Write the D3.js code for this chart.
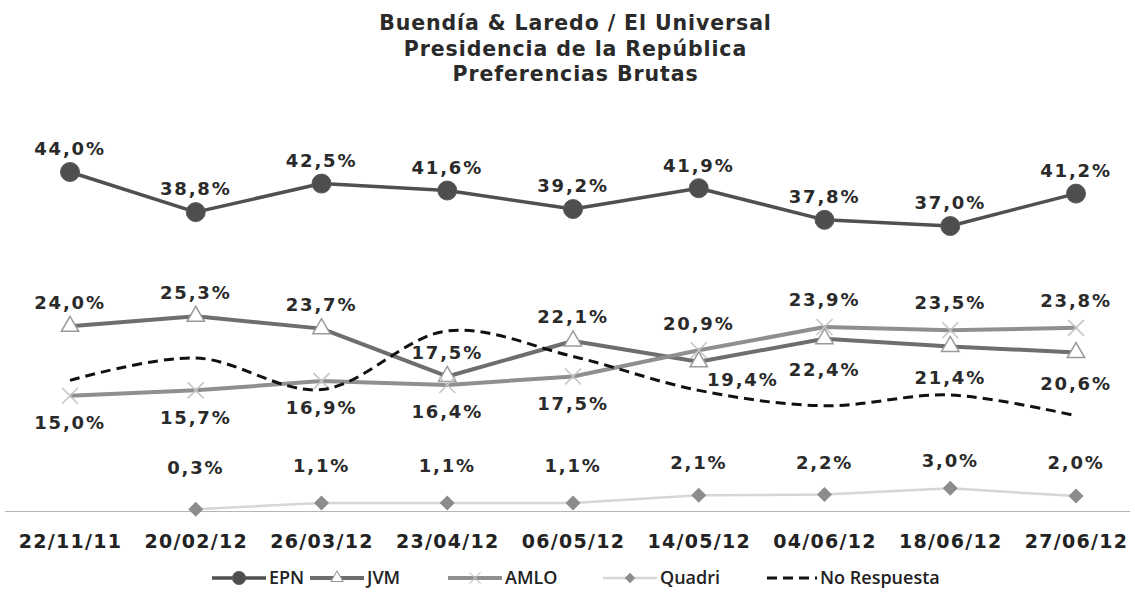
<!DOCTYPE html>
<html>
<head>
<meta charset="utf-8">
<script src="https://cdn.jsdelivr.net/npm/d3@7"></script>
<style>
  html, body { margin: 0; padding: 0; background: #fff; }
  svg { display: block; }
</style>
</head>
<body>
<svg id="chart" width="1135" height="609"></svg>
<script>
// Survey dates (x axis categories)
const dates = ["22/11/11", "20/02/12", "26/03/12", "23/04/12", "06/05/12",
               "14/05/12", "04/06/12", "18/06/12", "27/06/12"];

// Raw preference per candidate, in percent
const epn         = [44.0, 38.8, 42.5, 41.6, 39.2, 41.9, 37.8, 37.0, 41.2];
const jvm         = [24.0, 25.3, 23.7, 17.5, 22.1, 19.4, 22.4, 21.4, 20.6];
const amlo        = [15.0, 15.7, 16.9, 16.4, 17.5, 20.9, 23.9, 23.5, 23.8];
const quadri      = [null, 0.3, 1.1, 1.1, 1.1, 2.1, 2.2, 3.0, 2.0];
const noRespuesta = [17.0, 19.9, 15.8, 23.4, 20.1, 15.7, 13.7, 15.1, 12.4];

const titleLines = ["Buendía & Laredo / El Universal",
                    "Presidencia de la República",
                    "Preferencias Brutas"];
const seriesNames = ["EPN", "JVM", "AMLO", "Quadri", "No Respuesta"];

const W = 1135, H = 609;
const svg = d3.select("#chart");

const x = d3.scalePoint().domain(dates).range([70, 1076]);
const y = d3.scaleLinear().domain([0, 44]).range([511.5, 172]);

const fmt = v => d3.format(".1f")(v).replace(".", ",") + "%";
const FONT = "'DejaVu Sans', Verdana, sans-serif";

// ---- title ----
svg.append("g").selectAll("text").data(titleLines).join("text")
  .attr("x", W / 2 + 8)
  .attr("y", (d, i) => 30 + i * 25.5)
  .attr("text-anchor", "middle")
  .attr("font-family", FONT)
  .attr("font-weight", "bold")
  .attr("font-size", 20.5)
  .attr("letter-spacing", 0.9)
  .attr("fill", "#2a2a2a")
  .text(d => d);

// ---- category axis ----
const axis = d3.axisBottom(x).tickSize(0).tickPadding(23);
const gx = svg.append("g").attr("transform", `translate(0,${y(0)})`).call(axis);
gx.select(".domain").remove();
gx.append("line").attr("x1", 5).attr("x2", 1130)
  .attr("stroke", "#b5b5b5").attr("stroke-width", 1);
gx.selectAll(".tick text")
  .attr("font-family", FONT)
  .attr("font-weight", "bold")
  .attr("font-size", 19)
  .attr("letter-spacing", 1.3)
  .attr("fill", "#222");

// ---- series definitions ----
const series = [
  { name: "EPN", values: epn, color: "#505050", width: 3.5, marker: "circle",
    lab: (v, i) => [0, -23] },
  { name: "JVM", values: jvm, color: "#6e6e6e", width: 4, marker: "triangle",
    lab: (v, i) => i < 5 ? [0, -24] : i === 5 ? [44, 18] : [0, 31] },
  { name: "AMLO", values: amlo, color: "#8f8f8f", width: 4, marker: "x",
    lab: (v, i) => i < 5 ? [0, 27] : [0, -27] },
  { name: "Quadri", values: quadri, color: "#d6d6d6", width: 2.5, marker: "diamond",
    lab: (v, i) => [0, -(28 + (3 - v) * 5)] },
  { name: "No Respuesta", values: noRespuesta, color: "#111", width: 3, dash: "10,6",
    curve: d3.curveCatmullRom.alpha(0.5), marker: null, lab: null }
];

function drawMarker(sel, type) {
  if (type === "circle") {
    sel.append("circle").attr("r", 9.5).attr("fill", "#4e4e4e")
      .attr("stroke", "#5a5a5a").attr("stroke-width", 1);
  } else if (type === "triangle") {
    sel.append("path").attr("d", d3.symbol(d3.symbolTriangle, 130)())
      .attr("fill", "#fff").attr("stroke", "#9a9a9a").attr("stroke-width", 1.5);
  } else if (type === "x") {
    sel.append("path").attr("d", "M-8,-8L8,8M-8,8L8,-8")
      .attr("stroke", "#c4c4c4").attr("stroke-width", 1.5).attr("fill", "none");
  } else if (type === "diamond") {
    sel.append("path").attr("d", "M0,-7.5L7.5,0L0,7.5L-7.5,0Z")
      .attr("fill", "#8c8c8c");
  }
}

const plot = svg.append("g");
const labelLayer = svg.append("g");

series.forEach(s => {
  const pts = s.values.map((v, i) => ({ v, i, d: dates[i] })).filter(p => p.v != null);
  const line = d3.line().x(p => x(p.d)).y(p => y(p.v)).curve(s.curve || d3.curveLinear);
  const g = plot.append("g");
  g.append("path").datum(pts).attr("d", line)
    .attr("fill", "none").attr("stroke", s.color).attr("stroke-width", s.width)
    .attr("stroke-linejoin", "round")
    .attr("stroke-dasharray", s.dash || null);
  if (s.marker) {
    g.selectAll("g.m").data(pts).join("g").attr("class", "m")
      .attr("transform", p => `translate(${x(p.d)},${y(p.v)})`)
      .each(function () { drawMarker(d3.select(this), s.marker); });
  }
  if (s.lab) {
    labelLayer.selectAll(null).data(pts).join("text")
      .attr("x", p => x(p.d) + s.lab(p.v, p.i)[0])
      .attr("y", p => y(p.v) + s.lab(p.v, p.i)[1])
      .attr("dy", "0.35em")
      .attr("text-anchor", "middle")
      .attr("font-family", FONT)
      .attr("font-weight", "bold")
      .attr("font-size", 18)
      .attr("letter-spacing", 1.8)
      .attr("fill", "#2a2a2a")
      .text(p => fmt(p.v));
  }
});

// ---- legend ----
const legend = svg.append("g").attr("transform", "translate(0,578)");
const legendX = [212, 310, 448, 603, 767];
series.forEach((s, k) => {
  const g = legend.append("g").attr("transform", `translate(${legendX[k]},0)`);
  const len = s.dash ? 50 : 54;
  g.append("line").attr("x1", 0).attr("x2", len)
    .attr("stroke", s.color).attr("stroke-width", s.width)
    .attr("stroke-dasharray", s.dash || null);
  if (s.marker) {
    const m = g.append("g").attr("transform", `translate(${len / 2},0) scale(0.7)`);
    drawMarker(m, s.marker);
  }
  g.append("text").attr("x", len + 3).attr("dy", "0.35em")
    .attr("font-family", "'Open Sans', sans-serif")
    .attr("font-weight", 600)
    .attr("font-size", 18)
    .attr("fill", "#222")
    .text(seriesNames[k]);
});
</script>
</body>
</html>
